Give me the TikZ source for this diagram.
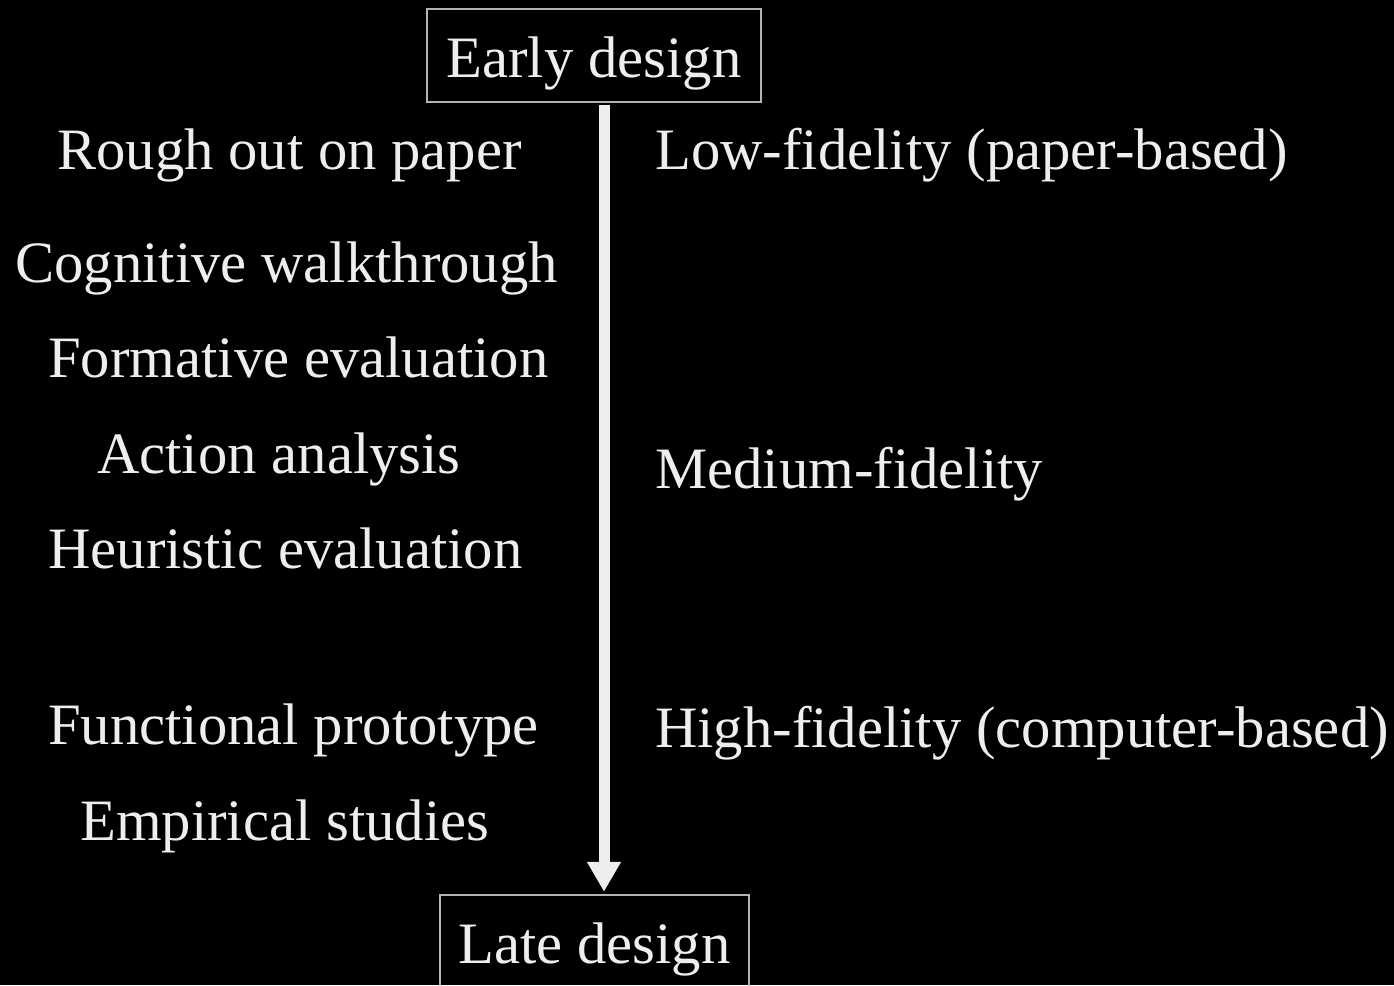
\documentclass[tikz,border=0pt]{standalone}
\usepackage{fontspec}
\setmainfont{Liberation Serif}
\usetikzlibrary{arrows.meta}
\definecolor{ink}{HTML}{EEEEEE}
\definecolor{frame}{HTML}{B4B4B4}
\tikzset{
  label/.style={text=ink, inner sep=0pt, anchor=base west, font=\fontsize{44}{52}\selectfont},
  stage/.style={draw=frame, line width=1.8pt, text=ink, inner xsep=0pt, inner ysep=0pt,
    text height=51pt, text depth=18.75pt, font=\fontsize{44}{52}\selectfont},
  timeline/.style={draw=ink, line width=8.25pt, -{Triangle[length=22.5pt, width=24pt]}}
}
\begin{document}
\begin{tikzpicture}[x=0.75pt, y=-0.75pt]
  \fill[black] (0,0) rectangle (1394,985);
  \useasboundingbox (0,0) rectangle (1394,985);

  % design stages
  \node[stage, minimum width=250.5pt] (early) at (594,55.5) {Early design};
  \node[stage, minimum width=231.75pt] (late) at (594.5,941.5) {Late design};

  % time axis
  \coordinate (ax) at (604,0);
  \draw[timeline] ([yshift=-1.5pt]early.south -| ax) -- ([yshift=1.5pt]late.north -| ax);

  % evaluation methods
  \node[label] (rough) at (57,169) {Rough out on paper};
  \node[label] (cogn) at (15,282) {Cognitive walkthrough};
  \node[label] (form) at (48,377) {Formative evaluation};
  \node[label] (action) at (97,473) {Action analysis};
  \node[label] (heur) at (48,568) {Heuristic evaluation};
  \node[label] (func) at (48,744) {Functional prototype};
  \node[label] (emp) at (80,840) {Empirical studies};

  % prototype fidelity
  \node[label] (low) at (655,169) {Low-fidelity (paper-based)};
  \node[label] (med) at (655,488) {Medium-fidelity};
  \node[label] (high) at (655,747) {High-fidelity (computer-based)};
\end{tikzpicture}
\end{document}
